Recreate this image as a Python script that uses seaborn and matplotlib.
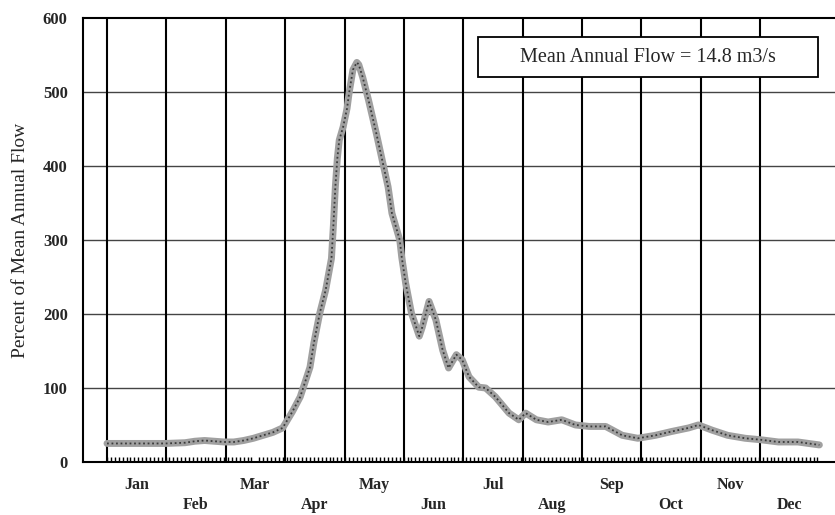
import pandas as pd
import seaborn as sns
import matplotlib.pyplot as plt
from matplotlib.patches import Rectangle

sns.set_style('white')
plt.rcParams['font.family'] = ['Liberation Serif', 'DejaVu Serif']

# day of year and percent of mean annual flow
day = [0, 10, 20, 30, 40, 45, 50, 55, 60, 65, 70, 75, 80, 85, 90, 95, 99,
       104, 106, 109, 112, 115, 116, 117, 118, 119, 121, 123, 124, 126, 128,
       129, 131, 134, 138, 141, 144, 146, 150, 151, 153, 156, 160, 161.5, 165,
       168.5, 172, 175, 179, 182, 185.5, 190.5, 194, 199, 206, 211, 214.5,
       220, 226, 233, 240, 247, 255.5, 264, 272, 281, 289, 298, 303, 310,
       318, 327, 335, 344, 354, 365]
flow = [25, 25, 25, 25, 26, 28, 29, 28, 27, 27, 29, 32, 36, 40, 46, 68, 88,
        128, 161, 201, 232, 275, 320, 372, 410, 435, 453, 478, 498, 530, 540,
        537, 520, 489, 444, 408, 372, 336, 300, 277, 242, 201, 170, 182, 217,
        192, 151, 127, 145, 138, 115, 101, 100, 88, 66, 57, 66,
        57, 54, 57, 50, 48, 48, 36, 32, 36, 41, 46, 50, 43,
        36, 32, 30, 27, 27, 23]

# month boundaries (equal-width months as on the original chart)
month_starts = [0, 30.4, 60.8, 91.3, 121.7, 152.1, 182.5, 212.9, 243.3, 273.8, 304.2, 334.6]
months = ['Jan', 'Feb', 'Mar', 'Apr', 'May', 'Jun',
          'Jul', 'Aug', 'Sep', 'Oct', 'Nov', 'Dec']
yticks = [0, 100, 200, 300, 400, 500, 600]

data = pd.DataFrame({'day': day, 'flow': flow})

fig = plt.figure(figsize=(8.35, 5.15), dpi=100)
ax = fig.add_axes([0.0994, 0.103, 0.9006, 0.862])

# grid
for y in yticks[1:-1]:
    ax.axhline(y, color='#444444', lw=1.0, zorder=1)
for x in month_starts:
    ax.axvline(x, color='black', lw=1.5, zorder=1)

# textured grey flow line
sns.lineplot(x='day', y='flow', data=data, ax=ax, color='#a0a0a0', lw=5, zorder=3)
sns.lineplot(x='day', y='flow', data=data, ax=ax, color='#3a3a3a', lw=1.3,
             linestyle=(0, (1, 1.5)), zorder=4)

ax.set_xlim(-12.3, 373)
ax.set_ylim(0, 600)

ax.set_yticks(yticks)
ax.set_yticklabels([str(v) for v in yticks], fontsize=12, fontweight='bold')

mids = [s + 15.2 for s in month_starts]
labels = [m if i % 2 == 0 else '\n' + m for i, m in enumerate(months)]
ax.set_xticks(mids)
ax.set_xticklabels(labels, fontsize=11.5, fontweight='bold', linespacing=1.3)
ax.tick_params(axis='x', which='major', length=0, pad=11)
ax.tick_params(axis='y', length=0, pad=11)

# dotted band of day ticks along the bottom
ax.set_xticks(range(0, 366, 2), minor=True)
ax.tick_params(axis='x', which='minor', bottom=True, direction='in',
               length=3.5, width=1, color='black')

ax.set_xlabel('')
ax.set_ylabel('Percent of Mean Annual Flow', fontsize=14, labelpad=10)

for side in ['left', 'top', 'bottom']:
    ax.spines[side].set_color('black')
    ax.spines[side].set_linewidth(1.5)
ax.spines['right'].set_visible(False)

# annotation box
ax.add_patch(Rectangle((0.525, 0.867), 0.452, 0.09, transform=ax.transAxes,
                       fc='white', ec='black', lw=1.3, zorder=5))
ax.text(0.751, 0.912, 'Mean Annual Flow = 14.8 m3/s', transform=ax.transAxes,
        ha='center', va='center', fontsize=14.5, zorder=6)

plt.savefig('out.png', dpi=100)
